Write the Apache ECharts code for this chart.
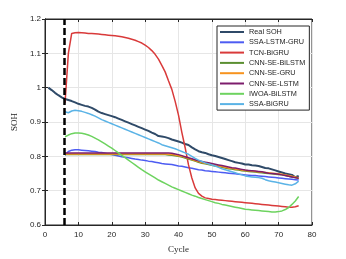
<!DOCTYPE html>
<html><head><meta charset="utf-8">
<script src="https://cdn.jsdelivr.net/npm/echarts@6/dist/echarts.min.js"></script>
<style>html,body{margin:0;padding:0;background:#fff}#c{width:346px;height:259px}</style>
</head><body><div id="c"></div>
<script>
const xTicks = [0,10,20,30,40,50,60,70,80];
const yTicks = [0.6,0.7,0.8,0.9,1.0,1.1,1.2];
const startCycle = 5.8;
const realCycles = [1,2,3,4,5,6,7,8,9,10,11,12,13,14,15,16,17,18,19,20,21,22,23,24,25,26,27,28,29,30,31,32,33,34,35,36,37,38,39,40,41,42,43,44,45,46,47,48,49,50,51,52,53,54,55,56,57,58,59,60,61,62,63,64,65,66,67,68,69,70,71,72,73,74,75,76];
const realSOH = [1.000,0.993,0.985,0.978,0.972,0.967,0.964,0.961,0.957,0.953,
0.950,0.947,0.945,0.941,0.936,0.930,0.926,0.923,0.920,0.917,
0.914,0.910,0.906,0.902,0.898,0.894,0.890,0.886,0.882,0.878,
0.874,0.869,0.865,0.859,0.858,0.856,0.853,0.849,0.846,0.843,
0.840,0.836,0.833,0.826,0.820,0.815,0.812,0.810,0.806,0.803,
0.801,0.798,0.795,0.792,0.789,0.786,0.783,0.781,0.779,0.776,
0.776,0.774,0.773,0.772,0.769,0.766,0.765,0.762,0.759,0.756,
0.753,0.750,0.748,0.746,0.739,0.743];
const predCycles = realCycles.slice(5);
const ssaLstmGru = [0.803,0.814,0.818,0.819,0.819,0.818,0.817,0.816,0.815,0.814,
0.812,0.811,0.809,0.807,0.805,0.803,0.801,0.799,0.797,0.796,
0.794,0.792,0.791,0.789,0.788,0.786,0.785,0.783,0.781,0.779,
0.778,0.777,0.776,0.774,0.772,0.771,0.769,0.767,0.765,0.763,
0.761,0.760,0.758,0.757,0.756,0.755,0.754,0.753,0.752,0.751,
0.750,0.749,0.748,0.747,0.746,0.745,0.744,0.744,0.743,0.742,
0.741,0.740,0.739,0.738,0.737,0.736,0.735,0.734,0.733,0.732,
0.731];
const tcnBiGru = [0.955,1.100,1.158,1.160,1.161,1.160,1.159,1.158,1.158,1.157,
1.156,1.155,1.154,1.153,1.152,1.151,1.150,1.148,1.146,1.144,
1.141,1.138,1.134,1.130,1.124,1.117,1.108,1.097,1.083,1.065,
1.046,1.020,0.995,0.960,0.920,0.870,0.825,0.775,0.737,0.708,
0.692,0.684,0.679,0.677,0.675,0.674,0.673,0.672,0.671,0.670,
0.669,0.668,0.667,0.666,0.665,0.664,0.663,0.662,0.661,0.660,
0.659,0.658,0.657,0.656,0.655,0.654,0.653,0.652,0.652,0.653,
0.656];
const cnnSeBiLstm = [0.805,0.805,0.805,0.805,0.805,0.805,0.805,0.805,0.805,0.805,
0.805,0.805,0.805,0.805,0.805,0.805,0.805,0.805,0.805,0.805,
0.805,0.805,0.805,0.805,0.805,0.805,0.805,0.805,0.805,0.805,
0.805,0.804,0.803,0.802,0.800,0.798,0.795,0.792,0.789,0.786,
0.783,0.780,0.778,0.776,0.774,0.772,0.770,0.768,0.766,0.764,
0.763,0.761,0.760,0.758,0.757,0.756,0.755,0.754,0.753,0.752,
0.751,0.750,0.749,0.748,0.747,0.746,0.744,0.742,0.740,0.738,
0.735];
const cnnSeGru = [0.807,0.807,0.807,0.807,0.807,0.807,0.807,0.807,0.807,0.807,
0.807,0.807,0.807,0.807,0.807,0.807,0.807,0.807,0.807,0.807,
0.807,0.807,0.807,0.807,0.807,0.807,0.807,0.807,0.807,0.807,
0.807,0.806,0.805,0.804,0.802,0.800,0.797,0.794,0.791,0.788,
0.785,0.782,0.780,0.778,0.776,0.774,0.772,0.770,0.768,0.766,
0.765,0.763,0.762,0.760,0.759,0.758,0.757,0.756,0.755,0.754,
0.753,0.752,0.751,0.750,0.749,0.748,0.746,0.744,0.742,0.740,
0.737];
const cnnSeLstm = [0.810,0.810,0.810,0.810,0.810,0.810,0.810,0.810,0.810,0.810,
0.810,0.810,0.810,0.810,0.810,0.810,0.810,0.810,0.810,0.810,
0.810,0.810,0.810,0.810,0.810,0.810,0.810,0.810,0.810,0.810,
0.810,0.810,0.809,0.807,0.805,0.802,0.799,0.796,0.793,0.790,
0.787,0.785,0.783,0.781,0.779,0.777,0.775,0.773,0.771,0.769,
0.767,0.766,0.764,0.762,0.760,0.759,0.758,0.757,0.756,0.755,
0.753,0.751,0.750,0.749,0.748,0.746,0.744,0.742,0.740,0.738,
0.736];
const iwoaBiLstm = [0.857,0.862,0.866,0.868,0.868,0.867,0.865,0.862,0.858,0.853,
0.848,0.842,0.836,0.830,0.824,0.817,0.810,0.803,0.796,0.789,
0.782,0.775,0.768,0.761,0.755,0.749,0.743,0.737,0.731,0.726,
0.721,0.716,0.711,0.707,0.703,0.699,0.695,0.691,0.687,0.684,
0.680,0.677,0.674,0.671,0.668,0.665,0.663,0.660,0.658,0.656,
0.654,0.652,0.650,0.648,0.646,0.645,0.644,0.643,0.642,0.641,
0.640,0.639,0.638,0.638,0.639,0.641,0.645,0.651,0.660,0.670,
0.683];
const ssaBiGru = [0.930,0.927,0.932,0.934,0.933,0.931,0.928,0.925,0.921,0.917,
0.912,0.907,0.903,0.899,0.895,0.891,0.887,0.883,0.879,0.875,
0.871,0.867,0.863,0.859,0.855,0.851,0.847,0.843,0.839,0.834,
0.831,0.828,0.825,0.822,0.818,0.814,0.810,0.806,0.800,0.794,
0.789,0.785,0.781,0.778,0.775,0.772,0.768,0.764,0.761,0.758,
0.755,0.752,0.749,0.746,0.743,0.741,0.740,0.739,0.738,0.736,
0.732,0.729,0.727,0.725,0.723,0.721,0.719,0.717,0.716,0.720,
0.728];

const names = ['Real SOH','SSA-LSTM-GRU','TCN-BiGRU','CNN-SE-BiLSTM','CNN-SE-GRU','CNN-SE-LSTM','IWOA-BiLSTM','SSA-BiGRU'];
const colors = ['#2f4a68','#4d5cf2','#d93a3a','#5b8f31','#f7931e','#7d1d6c','#6dd35f','#5ab3e6'];
const xs = [realCycles,predCycles,predCycles,predCycles,predCycles,predCycles,predCycles,predCycles];
const ys = [realSOH,ssaLstmGru,tcnBiGru,cnnSeBiLstm,cnnSeGru,cnnSeLstm,iwoaBiLstm,ssaBiGru];
const widths = [2,1.5,1.5,1.5,1.5,1.5,1.5,1.5];

const series = names.map((n,i)=>({
  name:n, type:'line', showSymbol:false, symbol:'none', smooth:false,
  data: xs[i].map((x,j)=>[x, ys[i][j]]),
  lineStyle:{color:colors[i], width:widths[i]}, itemStyle:{color:colors[i]},
  z: 3 + (i===0?0:1), animation:false
}));
series.push({type:'line', data:[], markLine:{symbol:'none', silent:true, animation:false, label:{show:false},
  lineStyle:{color:'#000', width:2.5, type:[7,3]}, data:[{xAxis:startCycle}]}});

const lab = {fontFamily:'Liberation Sans, Arial, sans-serif', fontSize:8, color:'#262626'};
const chart = echarts.init(document.getElementById('c'));
chart.setOption({
  animation:false,
  grid:{left:45, top:19, right:34, bottom:29, show:true, borderColor:'#262626', borderWidth:1},
  legend:{orient:'vertical', left:217, top:26, data:names, icon:'rect', itemWidth:24, itemHeight:2,
    itemGap:0.3, padding:[1,4,1,3], backgroundColor:'#fff', borderColor:'#262626', borderWidth:1,
    textStyle:{fontFamily:'Liberation Sans, Arial, sans-serif', fontSize:7.3, lineHeight:10, color:'#262626'}},
  xAxis:[{type:'value', min:xTicks[0], max:xTicks[xTicks.length-1], interval:10,
    name:'Cycle', nameLocation:'middle', nameGap:20,
    nameTextStyle:{fontFamily:'Liberation Serif, Times New Roman, serif', fontSize:9, color:'#262626'},
    axisLine:{show:true, lineStyle:{color:'#262626'}}, axisTick:{inside:true, length:3, lineStyle:{color:'#262626'}},
    axisLabel:Object.assign({margin:6}, lab), splitLine:{show:true, lineStyle:{color:'#e6e6e6', width:1}}},
   {type:'value', position:'top', min:0, max:80, interval:10, axisLine:{show:true, lineStyle:{color:'#262626'}},
    axisTick:{inside:true, length:3, lineStyle:{color:'#262626'}}, axisLabel:{show:false}, splitLine:{show:false}}],
  yAxis:[{type:'value', min:yTicks[0], max:yTicks[yTicks.length-1], interval:0.1,
    name:'SOH', nameLocation:'middle', nameGap:21,
    nameTextStyle:{fontFamily:'Liberation Serif, Times New Roman, serif', fontSize:9, color:'#262626'},
    axisLine:{show:true, lineStyle:{color:'#262626'}}, axisTick:{inside:true, length:3, lineStyle:{color:'#262626'}},
    axisLabel:Object.assign({margin:4, formatter:v=>String(Math.round(v*10)/10)}, lab),
    splitLine:{show:true, lineStyle:{color:'#e6e6e6', width:1}}},
   {type:'value', position:'right', min:0.6, max:1.2, interval:0.1, axisLine:{show:true, lineStyle:{color:'#262626'}},
    axisTick:{inside:true, length:3, lineStyle:{color:'#262626'}}, axisLabel:{show:false}, splitLine:{show:false}}],
  series: series
});
</script></body></html>
